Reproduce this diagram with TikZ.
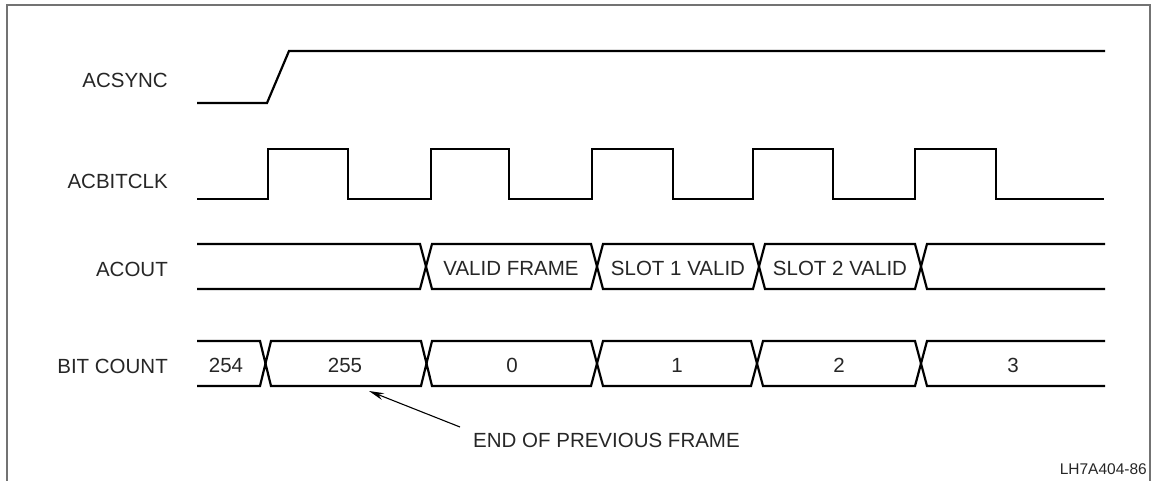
\documentclass[tikz,border=0pt]{standalone}
\usepackage{fontspec}
\setmainfont{Liberation Sans}
\usetikzlibrary{arrows.meta}
\begin{document}
\begin{tikzpicture}[x=1pt,y=-1pt,
  sig/.style={line width=2.2pt,line join=miter,black},
  lbl/.style={font=\fontsize{20.5}{24}\selectfont,text=black!85,inner sep=0pt,anchor=east},
  bustext/.style={font=\fontsize{20.5}{24}\selectfont,text=black!85,inner sep=0pt},
  framebox/.style={line width=1.5pt,black!55}]
\useasboundingbox (0,0) rectangle (1157,480);
% frame
\draw[framebox] (7,481) -- (7,5) -- (1150,5) -- (1150,481);
% labels
\node[lbl] (lsync) at (168,80) {ACSYNC};
\node[lbl] (lclk) at (168,181) {ACBITCLK};
\node[lbl] (lout) at (168,269) {ACOUT};
\node[lbl] (lbit) at (168,366) {BIT COUNT};
% ACSYNC
\draw[sig] (197,103) -- (267,103) -- (289,51) -- (1105,51);
% ACBITCLK
\draw[sig] (197,199) -- (268,199) -- (268,149) -- (348,149) -- (348,199)
  -- (431,199) -- (431,149) -- (509,149) -- (509,199)
  -- (592,199) -- (592,149) -- (673,149) -- (673,199)
  -- (753,199) -- (753,149) -- (833,149) -- (833,199)
  -- (915,199) -- (915,149) -- (996,149) -- (996,199) -- (1104,199);
% ACOUT bus
\draw[sig] (197,244) -- (420,244) -- (426,266.5) -- (432,244) -- (591,244) -- (597,266.5) -- (603,244)
  -- (753,244) -- (759,266.5) -- (765,244) -- (915,244) -- (921,266.5) -- (927,244) -- (1105,244);
\draw[sig] (197,289) -- (420,289) -- (426,266.5) -- (432,289) -- (591,289) -- (597,266.5) -- (603,289)
  -- (753,289) -- (759,266.5) -- (765,289) -- (915,289) -- (921,266.5) -- (927,289) -- (1105,289);
\node[bustext] (vf) at (511,268) {VALID FRAME};
\node[bustext] (s1) at (678,268) {SLOT 1 VALID};
\node[bustext] (s2) at (840,268) {SLOT 2 VALID};
% BIT COUNT bus
\draw[sig] (197,341) -- (260,341) -- (265.5,363.5) -- (271,341) -- (421,341) -- (426.5,363.5) -- (432,341)
  -- (591,341) -- (597,363.5) -- (603,341) -- (751,341) -- (757,363.5) -- (763,341)
  -- (915,341) -- (921,363.5) -- (927,341) -- (1105,341);
\draw[sig] (197,386) -- (260,386) -- (265.5,363.5) -- (271,386) -- (421,386) -- (426.5,363.5) -- (432,386)
  -- (591,386) -- (597,363.5) -- (603,386) -- (751,386) -- (757,363.5) -- (763,386)
  -- (915,386) -- (921,363.5) -- (927,386) -- (1105,386);
\node[bustext] (b254) at (226,365) {254};
\node[bustext] (b255) at (345,365) {255};
\node[bustext] (b0) at (512,365) {0};
\node[bustext] (b1) at (677,365) {1};
\node[bustext] (b2) at (839,365) {2};
\node[bustext] (b3) at (1013,365) {3};
% annotation
\node[bustext,anchor=west] (eof) at (473,440) {END OF PREVIOUS FRAME};
\coordinate (eoftip) at (369,391);
\draw[line width=1.1pt,-{Stealth[length=15pt,width=7pt]}] (460,427) -- (eoftip);
% figure id
\node[font=\fontsize{15.5}{18}\selectfont,text=black!85,inner sep=0pt,anchor=east] (fid) at (1147,469) {LH7A404-86};
\end{tikzpicture}
\end{document}
